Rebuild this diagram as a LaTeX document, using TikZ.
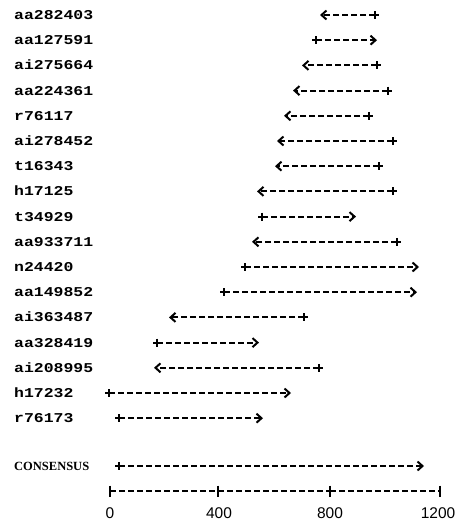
\documentclass[tikz,border=0pt]{standalone}
\usepackage{fontspec}
\setmainfont{Liberation Serif}
\newfontfamily\labfont[FakeStretch=1.22]{Liberation Mono}
\newfontfamily\numfont{Liberation Sans}
\usetikzlibrary{arrows.meta}
\tikzset{
  lab/.style={anchor=west, inner sep=0pt, text height=9pt, text depth=0pt,
    font=\labfont\bfseries\fontsize{13.5pt}{15pt}\selectfont},
  conslab/.style={anchor=west, inner sep=0pt, font=\bfseries\fontsize{12.5pt}{14pt}\selectfont},
  numlab/.style={inner sep=0pt, text height=11pt, text depth=0pt,
    font=\numfont\fontsize{15.5pt}{17pt}\selectfont},
  dl/.style={line width=2pt, dash pattern=on 6pt off 3pt,
    -{Straight Barb[length=5pt,width=9pt,line width=2pt]}},
  sl/.style={line width=1.6pt, dash pattern=on 6pt off 3pt},
  pics/plusmark/.style={code={\draw[line width=2pt,solid] (-4,0)--(4,0) (0,-4)--(0,4);}},
  pics/tickmark/.style={code={\draw[line width=2pt,solid] (0,-5.5)--(0,5.5);}}
}
\begin{document}
\begin{tikzpicture}[x=1pt,y=-1pt]
\useasboundingbox (0,0) rectangle (463,522);
% labels
\node[lab] (l1)  at (14,15)    {aa282403};
\node[lab] (l2)  at (14,40.2)  {aa127591};
\node[lab] (l3)  at (14,65.4)  {ai275664};
\node[lab] (l4)  at (14,90.6)  {aa224361};
\node[lab] (l5)  at (14,115.8) {r76117};
\node[lab] (l6)  at (14,141)   {ai278452};
\node[lab] (l7)  at (14,166.2) {t16343};
\node[lab] (l8)  at (14,191.4) {h17125};
\node[lab] (l9)  at (14,216.6) {t34929};
\node[lab] (l10) at (14,241.8) {aa933711};
\node[lab] (l11) at (14,267)   {n24420};
\node[lab] (l12) at (14,292.2) {aa149852};
\node[lab] (l13) at (14,317.4) {ai363487};
\node[lab] (l14) at (14,342.6) {aa328419};
\node[lab] (l15) at (14,367.8) {ai208995};
\node[lab] (l16) at (14,393)   {h17232};
\node[lab] (l17) at (14,418.2) {r76173};
\node[conslab] (lc) at (14,466) {CONSENSUS};
% plus ends (p) and arrow ends (a)
\coordinate (p1)  at (375,15);    \coordinate (a1)  at (320,15);
\coordinate (p2)  at (316,40.2);  \coordinate (a2)  at (377,40.2);
\coordinate (p3)  at (377,65.4);  \coordinate (a3)  at (302,65.4);
\coordinate (p4)  at (388,90.6);  \coordinate (a4)  at (293,90.6);
\coordinate (p5)  at (369,115.8); \coordinate (a5)  at (284,115.8);
\coordinate (p6)  at (393,141);   \coordinate (a6)  at (277,141);
\coordinate (p7)  at (379,166.2); \coordinate (a7)  at (275,166.2);
\coordinate (p8)  at (393,191.4); \coordinate (a8)  at (257,191.4);
\coordinate (p9)  at (262,216.6); \coordinate (a9)  at (356,216.6);
\coordinate (p10) at (397,241.8); \coordinate (a10) at (252,241.8);
\coordinate (p11) at (245,267);   \coordinate (a11) at (419,267);
\coordinate (p12) at (224,292.2); \coordinate (a12) at (417,292.2);
\coordinate (p13) at (304,317.4); \coordinate (a13) at (169,317.4);
\coordinate (p14) at (157,342.6); \coordinate (a14) at (259,342.6);
\coordinate (p15) at (319,367.8); \coordinate (a15) at (154,367.8);
\coordinate (p16) at (109,393);   \coordinate (a16) at (291,393);
\coordinate (p17) at (119,418.2); \coordinate (a17) at (263,418.2);
\coordinate (pc)  at (119,466);   \coordinate (ac)  at (424,466);
\foreach \i in {1,...,17,c}{
  \draw[dl] (p\i) -- (a\i);
  \pic at (p\i) {plusmark};
}
% scale
\coordinate (t0) at (110,491);
\coordinate (t1) at (218,491);
\coordinate (t2) at (330,491);
\coordinate (t3) at (440,491);
\draw[sl] (t0) -- (t1);
\draw[sl] (t1) -- (t2);
\draw[sl] (t2) -- (t3);
\foreach \t in {t0,t1,t2,t3}{\pic at (\t) {tickmark};}
\node[numlab] (n0) at (110,513) {0};
\node[numlab] (n1) at (219,513) {400};
\node[numlab] (n2) at (330,513) {800};
\node[numlab] (n3) at (438,513) {1200};
\end{tikzpicture}
\end{document}
